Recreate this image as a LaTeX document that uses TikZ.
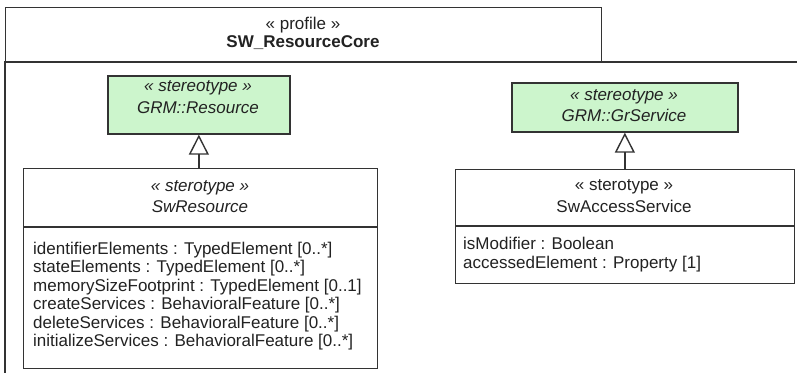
\documentclass[tikz,border=0pt]{standalone}
\usepackage{fontspec}
\setmainfont{Liberation Sans}
\usetikzlibrary{arrows.meta}
\definecolor{lineC}{HTML}{333333}
\definecolor{greenC}{HTML}{CCF5CC}
\definecolor{textC}{HTML}{222222}
\tikzset{
  box/.style={draw=lineC, line width=1.4pt, anchor=north west, inner sep=0pt},
  gbox/.style={box, fill=greenC, line width=1.7pt},
  txt/.style={inner sep=0pt, text=textC, font=\fontsize{17}{18.5}\selectfont},
  itxt/.style={txt, font=\fontsize{17}{18.5}\selectfont\itshape},
  attr/.style={txt, anchor=north west, align=left},
  gen/.style={draw=lineC, line width=1.4pt, -{Triangle[open, length=20pt, width=20pt, line width=1.4pt]}}
}
\begin{document}
\begin{tikzpicture}[x=1pt, y=-1pt]
\useasboundingbox (0,0) rectangle (797,372);
\fill[white] (0,0) rectangle (797,372);
\begin{scope}
\clip (0,0) rectangle (797,372);
% package
\draw[lineC, line width=1.4pt] (5,62) rectangle (830,400);
\node[box, minimum width=596pt, minimum height=55pt] (tab) at (5,7) {};
\end{scope}
\node[txt] (pst) at (303,25) {« profile »};
\node[txt, font=\fontsize{17}{18.5}\selectfont\bfseries] (pname) at (303,43) {SW\_ResourceCore};

% GRM::Resource
\node[gbox, minimum width=182pt, minimum height=58pt] (res) at (107,75) {};
\node[itxt] at (198,88) {« stereotype »};
\node[itxt] at (198,108) {GRM::Resource};

% GRM::GrService
\node[gbox, minimum width=226pt, minimum height=49pt] (srv) at (511,82) {};
\node[itxt] at (624,97) {« stereotype »};
\node[itxt] at (624,115) {GRM::GrService};

% SwResource
\node[box, minimum width=354pt, minimum height=200pt] (swr) at (23,168) {};
\draw[lineC, line width=1.4pt] (23,227) -- (377,227);
\node[itxt] at (200,188) {« sterotype »};
\node[itxt] at (200,207) {SwResource};
\node[attr] (swra) at (33,241.5) {identifierElements : TypedElement [0..*]\\
stateElements : TypedElement [0..*]\\
memorySizeFootprint : TypedElement [0..1]\\
createServices : BehavioralFeature [0..*]\\
deleteServices : BehavioralFeature [0..*]\\
initializeServices : BehavioralFeature [0..*]};

% SwAccessService
\node[box, minimum width=339pt, minimum height=114pt] (swa) at (455,169) {};
\draw[lineC, line width=1.4pt] (455,226) -- (794,226);
\node[txt] at (624,187) {« sterotype »};
\node[txt] at (624,206) {SwAccessService};
\node[attr, font=\fontsize{17}{19}\selectfont] (swaa) at (463,237) {isModifier : Boolean\\
accessedElement : Property [1]};

% generalizations
\draw[gen] (swr.north -| res.south) -- (res.south);
\draw[gen] (swa.north -| srv.south) -- (srv.south);
\end{tikzpicture}
\end{document}
